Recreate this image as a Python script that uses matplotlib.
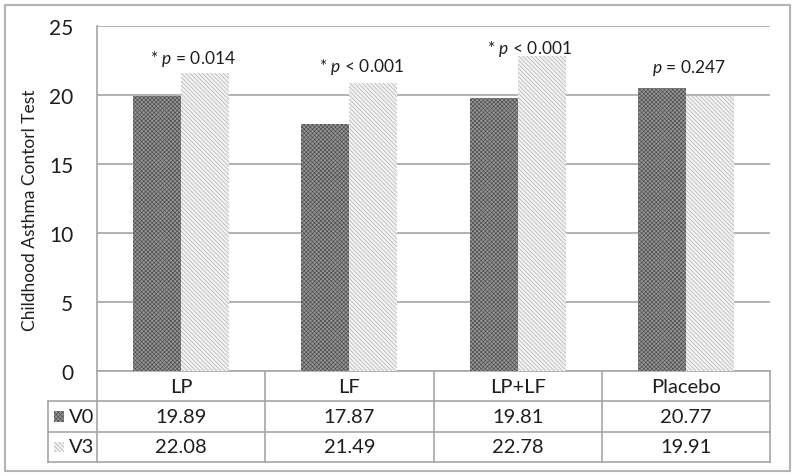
import matplotlib
matplotlib.use('Agg')
import matplotlib.pyplot as plt
from matplotlib.patches import Rectangle

# data
groups = ['LP', 'LF', 'LP+LF', 'Placebo']
series = ['V0', 'V3']
# bar heights as drawn in the chart
bar_v0 = [19.9, 17.9, 19.8, 20.5]
bar_v3 = [21.6, 20.9, 22.8, 19.9]
# values printed in the data table
table_v0 = ['19.89', '17.87', '19.81', '20.77']
table_v3 = ['22.08', '21.49', '22.78', '19.91']
p_labels = ['* $p$ = 0.014', '* $p$ < 0.001', '* $p$ < 0.001', '$p$ = 0.247']
p_label_y = [22.7, 22.1, 23.4, 22.0]
yticks = [0, 5, 10, 15, 20, 25]

plt.rcParams['font.family'] = ['Lato', 'DejaVu Sans']
plt.rcParams['mathtext.fontset'] = 'custom'
plt.rcParams['mathtext.rm'] = 'Lato'
plt.rcParams['mathtext.it'] = 'Lato:italic'
plt.rcParams['hatch.linewidth'] = 0.45

W, H = 797, 477
fig = plt.figure(figsize=(W / 100, H / 100), dpi=100)

line_c = '#a6a6a6'
txt_c = '#1e1e1e'

# outer border
fig.patches.append(Rectangle((5 / W, 1 - 472 / H), 785 / W, 466 / H,
                             transform=fig.transFigure, fill=False,
                             edgecolor='#b4b4b4', lw=1.5))

ax = fig.add_axes([97 / W, 1 - 372 / H, 673 / W, 345 / H])
x = range(len(groups))
w = 0.285
v0_style = dict(facecolor='#959595', edgecolor='#4a4a4a', hatch='xxxxxxxx', lw=0)
v3_style = dict(facecolor='#f2f2f2', edgecolor='#ababab', hatch='\\\\\\\\\\\\\\\\', lw=0)
ax.bar([i - w / 2 for i in x], bar_v0, w, zorder=3, **v0_style)
ax.bar([i + w / 2 for i in x], bar_v3, w, zorder=3, **v3_style)

for i, (lab, yy) in enumerate(zip(p_labels, p_label_y)):
    dx = 0.07 if lab.startswith('*') else 0.02
    ax.text(i + dx, yy, lab, ha='center', va='center', fontsize=12.5, color=txt_c)

ax.set_xlim(-0.5, 3.5)
ax.set_ylim(0, 25)
ax.set_yticks(yticks)
ax.set_xticks([])
ax.tick_params(axis='y', length=0, pad=17, labelsize=15, labelcolor=txt_c)
ax.grid(axis='y', color=line_c, lw=1.2, zorder=0)
for s in ['top', 'right']:
    ax.spines[s].set_visible(False)
for s in ['left', 'bottom']:
    ax.spines[s].set_color(line_c)
    ax.spines[s].set_linewidth(1.2)
ax.set_ylabel('Childhood Asthma Contorl Test', fontsize=12.5, color=txt_c)
ax.yaxis.set_label_coords(-0.088, 0.47)

# data table under the axis
tax = fig.add_axes([48 / W, 1 - 463 / H, 722 / W, 91 / H])
x0 = -0.5 - 49 / 168.25
tax.set_xlim(x0, 3.5)
tax.set_ylim(0, 3)
tax.axis('off')
lk = dict(color=line_c, lw=1.2, clip_on=False)
for yy in [0, 1, 2]:
    tax.plot([x0, 3.5], [yy, yy], **lk)
tax.plot([x0, x0], [0, 2], **lk)
for xx in [-0.5, 0.5, 1.5, 2.5, 3.5]:
    tax.plot([xx, xx], [0, 3], **lk)

fs = 14.5
for i, g in enumerate(groups):
    tax.text(i, 2.5, g, ha='center', va='center', fontsize=fs, color=txt_c)
    tax.text(i, 1.5, table_v0[i], ha='center', va='center', fontsize=fs, color=txt_c)
    tax.text(i, 0.5, table_v3[i], ha='center', va='center', fontsize=fs, color=txt_c)

sw = 10 / 168.25
for row, (name, st) in zip([1.5, 0.5], [(series[0], v0_style), (series[1], v3_style)]):
    tax.add_patch(Rectangle((x0 + 6 / 168.25, row - 0.17), sw, 0.34, clip_on=False, **st))
    tax.text(x0 + 21 / 168.25, row, name, ha='left', va='center', fontsize=fs, color=txt_c)

fig.savefig('out.png', dpi=100)
